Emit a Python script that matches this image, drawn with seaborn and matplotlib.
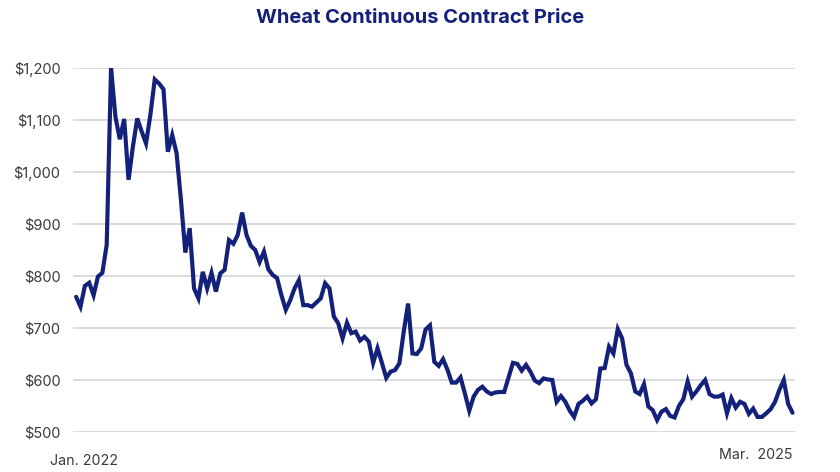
import matplotlib
matplotlib.use("Agg")
import matplotlib.pyplot as plt
import matplotlib.ticker as mticker
import seaborn as sns
import pandas as pd
import numpy as np

# Weekly wheat continuous contract price (USD), Jan 2022 - Mar 2025
start_date = "2022-01-03"
prices = [
    760, 741, 781, 787, 763, 799, 806, 860, 1200, 1106,
    1063, 1102, 985, 1049, 1103, 1078, 1055, 1110, 1178, 1170,
    1159, 1039, 1071, 1036, 946, 845, 892, 776, 757, 808,
    776, 806, 770, 805, 812, 869, 862, 879, 922, 879,
    858, 850, 827, 847, 813, 802, 796, 763, 735, 753,
    776, 792, 744, 744, 741, 749, 757, 786, 776, 722,
    709, 680, 710, 690, 693, 676, 683, 674, 633, 661,
    633, 604, 616, 619, 632, 693, 747, 651, 650, 661,
    697, 705, 635, 627, 640, 620, 595, 595, 605, 574,
    541, 568, 581, 587, 578, 573, 576, 577, 577, 605,
    633, 631, 618, 629, 616, 599, 594, 603, 601, 600,
    558, 569, 558, 541, 529, 554, 560, 568, 555, 563,
    622, 623, 664, 651, 698, 680, 629, 613, 578, 573,
    592, 549, 542, 523, 539, 544, 531, 528, 550, 563,
    597, 568, 578, 590, 600, 573, 568, 568, 572, 536,
    565, 547, 558, 554, 535, 545, 529, 529, 536, 544,
    558, 581, 600, 554, 537,
]
y_ticks = [500, 600, 700, 800, 900, 1000, 1100, 1200]
x_labels = ["Jan. 2022", "Mar.  2025"]
title = "Wheat Continuous Contract Price"

dates = pd.date_range(start_date, periods=len(prices), freq="7D")
df = pd.DataFrame({"date": dates, "price": prices})

navy = "#14217a"
sns.set_theme(style="white")
plt.rcParams["font.family"] = ["Inter", "DejaVu Sans"]

fig = plt.figure(figsize=(8.4, 4.72), dpi=100)
ax = fig.add_axes([73 / 840, 1 - 432 / 472, 722 / 840, 364 / 472])

for v in y_ticks:
    ax.axhline(v, color="#dadada", lw=1.4, zorder=0)

sns.lineplot(data=df, x="date", y="price", ax=ax, color=navy, lw=3.0,
             solid_joinstyle="miter", zorder=3)

ax.set_ylim(500, 1200)
ax.set_xlim(dates[0] - pd.Timedelta(days=5), dates[-1] + pd.Timedelta(days=4))
ax.set_yticks(y_ticks)
ax.yaxis.set_major_formatter(mticker.FuncFormatter(lambda v, p: f"${v:,.0f}"))
ax.tick_params(axis="y", length=0, pad=9, labelsize=10.5, labelcolor="#3a3a3a")
ax.set_xticks([])
ax.set_xlabel("")
ax.set_ylabel("")
for s in ax.spines.values():
    s.set_visible(False)

trans = ax.get_xaxis_transform()
ax.text(dates[0] + pd.Timedelta(days=13), -0.08, x_labels[0], transform=trans,
        ha="center", va="center", fontsize=10.3, color="#3a3a3a")
ax.text(dates[-1], -0.062, x_labels[1], transform=trans,
        ha="right", va="center", fontsize=10.3, color="#3a3a3a")

fig.text(0.5, 1 - 18 / 472, title, ha="center", va="center",
         fontsize=14.5, fontweight="bold", color=navy)

fig.savefig("out.png", dpi=100)
